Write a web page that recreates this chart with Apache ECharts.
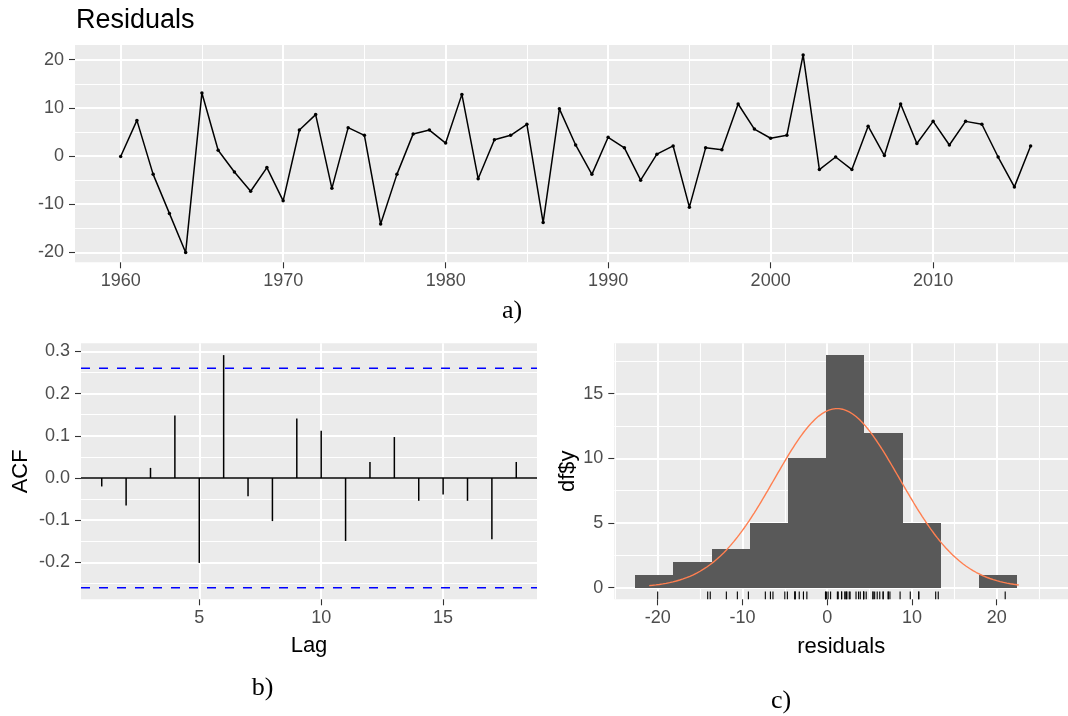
<!DOCTYPE html>
<html>
<head>
<meta charset="utf-8">
<title>Residual diagnostics</title>
<script src="https://cdn.jsdelivr.net/npm/echarts@6/dist/echarts.min.js"></script>
<style>
  html, body { margin: 0; padding: 0; background: #ffffff; }
  #chart { width: 1068px; height: 716px; }
</style>
</head>
<body>
<div id="chart"></div>
<script>
// ---- data ----
const years = [
  1960, 1961, 1962, 1963, 1964, 1965, 1966, 1967, 1968, 1969,
  1970, 1971, 1972, 1973, 1974, 1975, 1976, 1977, 1978, 1979,
  1980, 1981, 1982, 1983, 1984, 1985, 1986, 1987, 1988, 1989,
  1990, 1991, 1992, 1993, 1994, 1995, 1996, 1997, 1998, 1999,
  2000, 2001, 2002, 2003, 2004, 2005, 2006, 2007, 2008, 2009,
  2010, 2011, 2012, 2013, 2014, 2015, 2016
];
const residuals = [
  -0.1, 7.4, -3.8, -11.9, -20.0, 13.1, 1.2, -3.3, -7.3, -2.4,
  -9.3, 5.4, 8.6, -6.7, 5.9, 4.3, -14.1, -3.8, 4.6, 5.4,
  2.7, 12.8, -4.7, 3.4, 4.3, 6.6, -13.8, 9.8, 2.3, -3.8,
  3.9, 1.7, -5.0, 0.4, 2.1, -10.6, 1.7, 1.3, 10.8, 5.6,
  3.7, 4.3, 21.0, -2.8, -0.2, -2.8, 6.2, 0.1, 10.8, 2.6,
  7.2, 2.3, 7.2, 6.6, -0.2, -6.4, 2.1
];
const lags = [1, 2, 3, 4, 5, 6, 7, 8, 9, 10, 11, 12, 13, 14, 15, 16, 17, 18];
const acfValues = [
  -0.020, -0.065, 0.024, 0.148, -0.201, 0.291, -0.043, -0.102, 0.141,
  0.112, -0.149, 0.038, 0.097, -0.054, -0.039, -0.054, -0.145, 0.038
];
const acfBound = 0.26;  // 95% white-noise bound
const binEdges = [-22.65, -18.15, -13.64, -9.14, -4.63, -0.13, 4.38, 8.89, 13.39, 17.9, 22.4];
const binCounts = [1, 2, 3, 5, 10, 18, 12, 5, 0, 1];

// tick labels
const yearTicks = [1960, 1970, 1980, 1990, 2000, 2010];
const residTicks = [-20, -10, 0, 10, 20];
const lagTicks = [5, 10, 15];
const acfTicks = [-0.2, -0.1, 0.0, 0.1, 0.2, 0.3];
const histXTicks = [-20, -10, 0, 10, 20];
const histYTicks = [0, 5, 10, 15];

// ---- derived ----
const n = residuals.length;
const mean = residuals.reduce((a, b) => a + b, 0) / n;
const sd = Math.sqrt(residuals.reduce((a, b) => a + (b - mean) * (b - mean), 0) / (n - 1));
const binWidth = (binEdges[binEdges.length - 1] - binEdges[0]) / binCounts.length;
// fitted normal density, scaled to counts
const curve = [];
for (let x = -21; x <= 22.6 + 1e-9; x += 0.2) {
  const z = (x - mean) / sd;
  curve.push([x, n * binWidth * Math.exp(-0.5 * z * z) / (sd * Math.sqrt(2 * Math.PI))]);
}
const histData = binCounts.map((c, i) => [binEdges[i], binEdges[i + 1], c]);

// ---- styling helpers ----
const FONT = '"Liberation Sans", Arial, sans-serif';
const PANEL_BG = '#EBEBEB';

function valueAxis(opts) {
  const o = {
    type: 'value',
    gridIndex: opts.grid,
    min: opts.min,
    max: opts.max,
    splitNumber: opts.splitNumber || 5,
    axisLine: { show: false, onZero: false },
    axisTick: {
      show: true, length: 6, customValues: opts.ticks,
      lineStyle: { color: '#333333', width: 1.1 }
    },
    axisLabel: {
      customValues: opts.ticks,
      margin: opts.margin,
      color: '#4D4D4D',
      fontFamily: FONT,
      fontSize: 18,
      formatter: opts.formatter || (v => String(v))
    },
    splitLine: { show: true, lineStyle: { color: '#FFFFFF', width: 2 } },
    minorTick: { show: false, splitNumber: 2 },
    minorSplitLine: { show: opts.minor !== false, lineStyle: { color: '#FFFFFF', width: 1.1 } }
  };
  if (opts.name) {
    o.name = opts.name;
    o.nameLocation = 'middle';
    o.nameGap = opts.nameGap;
    o.nameTextStyle = { color: '#000000', fontFamily: FONT, fontSize: 22 };
  }
  return o;
}

const chart = echarts.init(document.getElementById('chart'), null, { renderer: 'canvas' });

const option = {
  animation: false,
  backgroundColor: '#FFFFFF',
  title: {
    text: 'Residuals',
    left: 76,
    top: 7,
    padding: 0,
    textStyle: { color: '#000000', fontFamily: FONT, fontSize: 27, fontWeight: 'normal' }
  },
  grid: [
    { left: 75, top: 45, width: 993, height: 217.3, show: true, backgroundColor: PANEL_BG, borderWidth: 0 },
    { left: 81, top: 343.3, width: 456, height: 256, show: true, backgroundColor: PANEL_BG, borderWidth: 0 },
    { left: 614.3, top: 343.3, width: 453.7, height: 256, show: true, backgroundColor: PANEL_BG, borderWidth: 0 }
  ],
  xAxis: [
    valueAxis({ grid: 0, min: 1957.19, max: 2018.3, ticks: yearTicks, margin: 10 }),
    valueAxis({ grid: 1, min: 0.15, max: 18.85, splitNumber: 4, ticks: lagTicks, margin: 10,
                minor: false, name: 'Lag', nameGap: 36 }),
    valueAxis({ grid: 2, min: -25.12, max: 28.41, ticks: histXTicks, margin: 10,
                name: 'residuals', nameGap: 37 })
  ],
  yAxis: [
    valueAxis({ grid: 0, min: -22.05, max: 23.05, ticks: residTicks, margin: 11 }),
    valueAxis({ grid: 1, min: -0.2872, max: 0.319, ticks: acfTicks, margin: 11,
                formatter: v => v.toFixed(1), name: 'ACF', nameGap: 49 }),
    valueAxis({ grid: 2, min: -0.9, max: 18.9, splitNumber: 4, ticks: histYTicks, margin: 11,
                name: 'df$y', nameGap: 34 })
  ],
  series: [
    // residual time series
    {
      type: 'line',
      xAxisIndex: 0, yAxisIndex: 0,
      data: years.map((y, i) => [y, residuals[i]]),
      symbol: 'circle',
      symbolSize: 3.5,
      showSymbol: true,
      itemStyle: { color: '#000000' },
      lineStyle: { color: '#000000', width: 1.5 },
      z: 5
    },
    // ACF reference lines: zero and +/- bound
    {
      type: 'custom',
      xAxisIndex: 1, yAxisIndex: 1,
      data: [[0, 0], [acfBound, 1], [-acfBound, 1]],
      renderItem: function (params, api) {
        const y = api.value(0);
        const dashed = api.value(1) === 1;
        const p0 = api.coord([0.15, y]);
        const p1 = api.coord([18.85, y]);
        return {
          type: 'line',
          shape: { x1: p0[0], y1: p0[1], x2: p1[0], y2: p1[1] },
          style: dashed
            ? { stroke: '#0000FF', lineWidth: 1.5, lineDash: [9, 9] }
            : { stroke: '#000000', lineWidth: 1.5 }
        };
      },
      z: 4
    },
    // ACF spikes
    {
      type: 'custom',
      xAxisIndex: 1, yAxisIndex: 1,
      data: lags.map((l, i) => [l, acfValues[i]]),
      renderItem: function (params, api) {
        const p0 = api.coord([api.value(0), 0]);
        const p1 = api.coord([api.value(0), api.value(1)]);
        return {
          type: 'line',
          shape: { x1: p0[0], y1: p0[1], x2: p1[0], y2: p1[1] },
          style: { stroke: '#000000', lineWidth: 1.5 }
        };
      },
      z: 5
    },
    // histogram of residuals (edges snapped to whole pixels so bars join cleanly)
    {
      type: 'custom',
      xAxisIndex: 2, yAxisIndex: 2,
      data: histData,
      renderItem: function (params, api) {
        const a = api.coord([api.value(0), api.value(2)]);
        const b = api.coord([api.value(1), 0]);
        const x0 = Math.round(a[0]), x1 = Math.round(b[0]);
        const y0 = Math.round(a[1]), y1 = Math.round(b[1]);
        return {
          type: 'rect',
          shape: { x: x0, y: y0, width: x1 - x0, height: y1 - y0 },
          style: { fill: '#595959' }
        };
      },
      z: 3
    },
    // normal density overlay
    {
      type: 'line',
      xAxisIndex: 2, yAxisIndex: 2,
      data: curve,
      showSymbol: false,
      symbol: 'none',
      lineStyle: { color: '#FF7F50', width: 1.4 },
      z: 4
    },
    // rug of residuals along the bottom
    {
      type: 'custom',
      xAxisIndex: 2, yAxisIndex: 2,
      data: residuals.map(v => [v]),
      renderItem: function (params, api) {
        const p0 = api.coord([api.value(0), -0.9]);
        const p1 = api.coord([api.value(0), -0.306]);
        return {
          type: 'line',
          shape: { x1: p0[0], y1: p0[1], x2: p1[0], y2: p1[1] },
          style: { stroke: '#000000', lineWidth: 1.1 }
        };
      },
      z: 5
    }
  ],
  graphic: [
    { type: 'text', x: 512, y: 311, style: { text: 'a)', fill: '#000000', font: '26px "Liberation Serif", "Times New Roman", serif', align: 'center', verticalAlign: 'middle' } },
    { type: 'text', x: 262.5, y: 688, style: { text: 'b)', fill: '#000000', font: '26px "Liberation Serif", "Times New Roman", serif', align: 'center', verticalAlign: 'middle' } },
    { type: 'text', x: 781, y: 701, style: { text: 'c)', fill: '#000000', font: '26px "Liberation Serif", "Times New Roman", serif', align: 'center', verticalAlign: 'middle' } }
  ]
};

chart.setOption(option);
</script>
</body>
</html>
